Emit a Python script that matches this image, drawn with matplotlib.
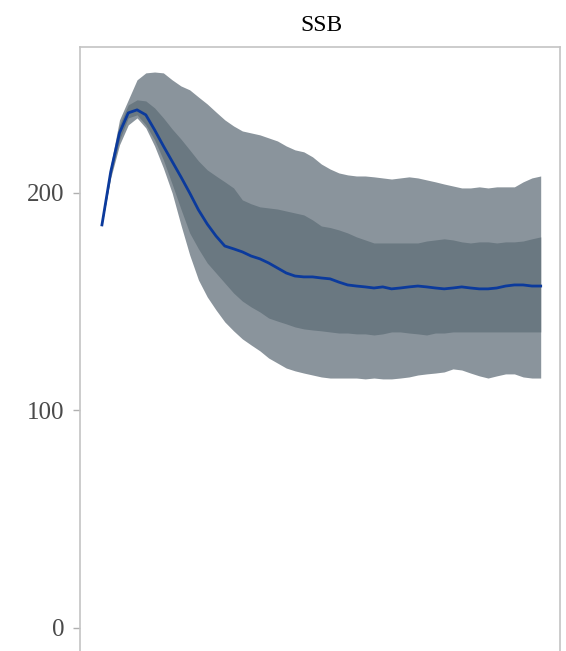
import numpy as np
import matplotlib.pyplot as plt

plt.rcParams['font.family'] = ['Liberation Serif', 'DejaVu Serif']

years = np.arange(0, 51)

median = [185.3, 209.7, 227.6, 236.8, 238.2, 235.9, 229.0, 221.6, 214.5, 207.4,
          200.0, 192.2, 185.7, 180.2, 175.6, 174.3, 172.9, 171.0, 169.7, 167.8,
          165.5, 163.2, 161.8, 161.4, 161.4, 160.9, 160.5, 159.0, 157.7, 157.2,
          156.8, 156.3, 156.8, 155.9, 156.3, 156.8, 157.2, 156.8, 156.3, 155.9,
          156.3, 156.8, 156.3, 155.9, 155.9, 156.3, 157.2, 157.7, 157.7, 157.2,
          157.2]

outer_hi = [185.3, 212.9, 233.6, 242.8, 252.0, 255.2, 255.6, 255.2, 252.0, 249.2,
            247.4, 244.1, 240.9, 237.2, 233.6, 230.8, 228.5, 227.6, 226.7, 225.3,
            223.9, 221.6, 219.8, 218.9, 216.6, 213.3, 211.0, 209.2, 208.3, 207.8,
            207.8, 207.4, 206.9, 206.4, 206.9, 207.4, 206.9, 206.0, 205.1, 204.1,
            203.2, 202.3, 202.3, 202.8, 202.3, 202.8, 202.8, 202.8, 205.1, 206.9,
            207.8]

inner_hi = [185.3, 211.5, 231.3, 240.5, 242.8, 242.3, 239.1, 234.5, 229.4, 224.8,
            219.8, 214.7, 210.6, 207.8, 205.1, 202.3, 196.8, 195.0, 193.6, 193.1,
            192.6, 191.7, 190.8, 189.9, 187.6, 184.8, 184.1, 183.0, 181.6, 179.8,
            178.4, 177.0, 177.0, 177.0, 177.0, 177.0, 177.0, 177.9, 178.4, 178.9,
            178.4, 177.5, 177.0, 177.5, 177.5, 177.0, 177.5, 177.5, 177.9, 178.9,
            179.8]

inner_lo = [185.3, 207.8, 224.4, 234.5, 235.9, 231.3, 224.4, 215.2, 204.1, 192.6,
            181.6, 174.3, 167.8, 163.2, 158.6, 154.0, 150.3, 147.6, 145.3, 142.5,
            141.1, 139.8, 138.4, 137.5, 137.0, 136.6, 136.1, 135.6, 135.6, 135.2,
            135.2, 134.7, 135.2, 136.1, 136.1, 135.6, 135.2, 134.7, 135.6, 135.6,
            136.1, 136.1, 136.1, 136.1, 136.1, 136.1, 136.1, 136.1, 136.1, 136.1,
            136.1]

outer_lo = [185.3, 206.9, 222.1, 231.3, 234.5, 229.9, 221.6, 211.5, 200.0, 185.3,
            171.5, 160.0, 152.2, 146.2, 140.7, 136.6, 132.9, 130.1, 127.4, 124.1,
            121.8, 119.5, 118.2, 117.2, 116.3, 115.4, 114.9, 114.9, 114.9, 114.9,
            114.5, 114.9, 114.5, 114.5, 114.9, 115.4, 116.3, 116.8, 117.2, 117.7,
            119.1, 118.6, 117.2, 115.9, 114.9, 115.9, 116.8, 116.8, 115.4, 114.9,
            114.9]

yticks = [0, 100, 200]

fig = plt.figure(figsize=(5.66, 6.51), dpi=100)
ax = fig.add_axes([80/566, 0, 480/566, 604/651])

ax.fill_between(years, outer_lo, outer_hi, color='#8a949c', lw=0)
ax.fill_between(years, inner_lo, inner_hi, color='#6a7881', lw=0)
ax.plot(years, median, color='#0b3a9c', lw=2)

ax.set_xlim(-2.5, 52.2)
ax.set_ylim(-10.6, 267.1)
ax.set_yticks(yticks)
ax.set_xticks([])
ax.tick_params(axis='y', length=5, width=1, color='#b0b0b0', pad=6,
               labelsize=18, labelcolor='#4a4a4a')

for side in ['left', 'right', 'top']:
    ax.spines[side].set_color('#c4c4c4')
    ax.spines[side].set_linewidth(1.2)
ax.spines['bottom'].set_visible(False)

fig.text(321/566, 1 - 31/651, 'SSB', ha='center', va='baseline', fontsize=17, color='black')

fig.savefig('out.png', dpi=100)
